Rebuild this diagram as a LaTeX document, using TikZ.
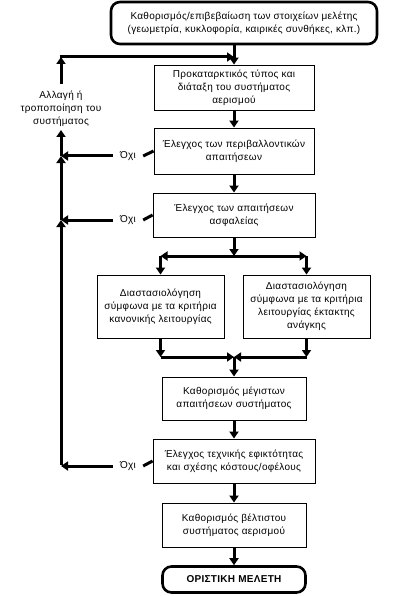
\documentclass[tikz,border=0pt]{standalone}
\usepackage{fontspec}
\setmainfont{Liberation Sans}[LetterSpace=3]
\usetikzlibrary{arrows.meta}
\begin{document}
\begin{tikzpicture}[x=1pt,y=-1pt,
  txt/.style={font=\fontsize{10}{13}\selectfont, align=center},
  box/.style={txt, draw, line width=0.9pt, inner sep=0pt},
  rbox/.style={txt, draw, line width=2.6pt, rounded corners=9pt, inner sep=0pt},
  arr/.style={line width=3pt, -{Triangle[width=9pt,length=7pt]}},
  ln/.style={line width=3pt},
  no/.style={txt, inner sep=0pt, minimum width=30pt, minimum height=12pt}]
\useasboundingbox[fill=white] (0,0) rectangle (405,596);
% nodes
\node[rbox, minimum width=266pt, minimum height=42pt] (top) at (244,23)
  {Καθορισμός/επιβεβαίωση των στοιχείων μελέτης\\(γεωμετρία, κυκλοφορία, καιρικές συνθήκες, κλπ.)};
\node[box, minimum width=160pt, minimum height=45pt] (b2) at (234,87.5)
  {Προκαταρκτικός τύπος και\\διάταξη του συστήματος\\αερισμού};
\node[box, minimum width=160pt, minimum height=46pt] (b3) at (234,151)
  {Έλεγχος των περιβαλλοντικών\\απαιτήσεων};
\node[box, minimum width=162pt, minimum height=44pt] (b4) at (234,215)
  {Έλεγχος των απαιτήσεων\\ασφαλείας};
\node[box, minimum width=127pt, minimum height=63pt] (b5l) at (160.5,306.5)
  {Διαστασιολόγηση\\σύμφωνα με τα κριτήρια\\κανονικής λειτουργίας};
\node[box, minimum width=127pt, minimum height=63pt] (b5r) at (306.5,306.5)
  {Διαστασιολόγηση\\σύμφωνα με τα κριτήρια\\λειτουργίας έκτακτης\\ανάγκης};
\node[box, minimum width=144pt, minimum height=43pt] (b6) at (234,398.5)
  {Καθορισμός μέγιστων\\απαιτήσεων συστήματος};
\node[box, minimum width=162pt, minimum height=44pt] (b7) at (234,461)
  {Έλεγχος τεχνικής εφικτότητας\\και σχέσης κόστους/οφέλους};
\node[box, minimum width=144pt, minimum height=44pt] (b8) at (234,525)
  {Καθορισμός βέλτιστου\\συστήματος αερισμού};
\node[rbox, minimum width=143pt, minimum height=26pt, font=\fontsize{10}{13}\selectfont\bfseries] (fin) at (234,579.5)
  {ΟΡΙΣΤΙΚΗ ΜΕΛΕΤΗ};
\node[txt] (chg) at (61,108.5) {Αλλαγή ή\\τροποποίηση του\\συστήματος};
\node[no] (n3) at (128,156) {Όχι};
\node[no] (n4) at (128,220) {Όχι};
\node[no] (n7) at (128,466) {Όχι};
% coordinates
\coordinate (c0) at (61,57);
\coordinate (lt) at (61,84);
\coordinate (lb) at (61,130);
\coordinate (j3) at (61,156);
\coordinate (j4) at (61,220);
\coordinate (j7) at (61,466);
\coordinate (s) at (234,256);
\coordinate (sl) at (160.5,256);
\coordinate (sr) at (306.5,256);
\coordinate (m) at (234,357);
\coordinate (ml) at (160.5,357);
\coordinate (mr) at (306.5,357);
% main flow
\draw[arr] (top.south -| b2.north) -- (b2.north);
\draw[arr] (b2) -- (b3);
\draw[arr] (b3) -- (b4);
\draw[arr] (b4.south) -- (s);
\draw[arr] (s) -- (sl);
\draw[arr] (s) -- (sr);
\draw[arr] (sl) -- (b5l.north);
\draw[arr] (sr) -- (b5r.north);
\draw[arr] (b5l.south) -- (ml);
\draw[arr] (b5r.south) -- (mr);
\draw[arr] (ml) -- (m);
\draw[arr] (mr) -- (m);
\draw[arr] (m) -- (b6.north);
\draw[arr] (b6) -- (b7);
\draw[arr] (b7) -- (b8);
\draw[arr] (b8) -- (fin);
% feedback
\draw[ln] (b3.west) -- (n3.east);
\draw[ln] (b4.west) -- (n4.east);
\draw[ln] (b7.west) -- (n7.east);
\draw[arr] (n3.west) -- (j3);
\draw[arr] (n4.west) -- (j4);
\draw[arr] (n7.west) -- (j7);
\draw[arr] ([yshift=1.5pt]j7) -- (j4);
\draw[arr] (j4) -- (j3);
\draw[arr] (j3) -- (lb);
\draw[arr] (lt) -- (c0);
\draw[arr] ([xshift=-1.5pt]c0) -- (c0 -| b2.north);
\end{tikzpicture}
\end{document}
